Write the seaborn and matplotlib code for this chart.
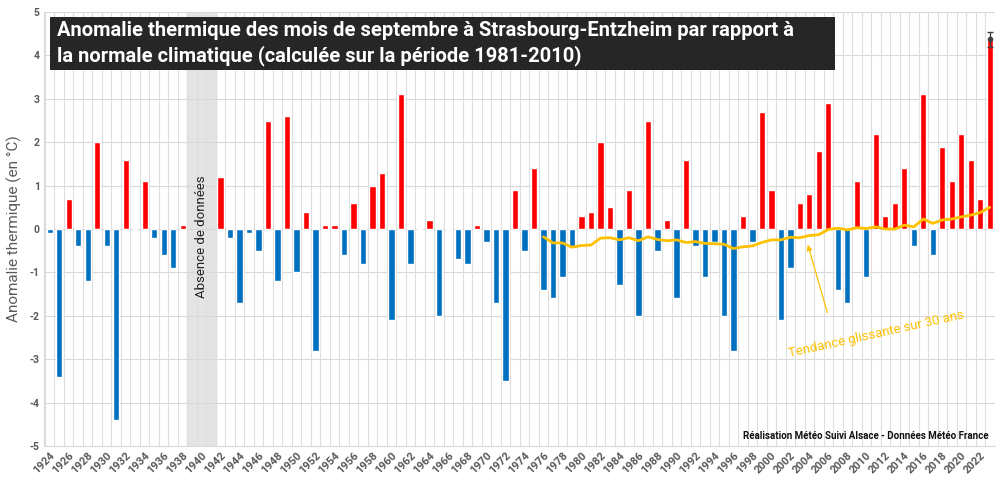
import numpy as np
import pandas as pd
import seaborn as sns
import matplotlib.pyplot as plt
from matplotlib.patches import Rectangle

years = list(range(1924, 2024))
anomalies = [-0.1, -3.4, 0.7, -0.4, -1.2, 2.0, -0.4, -4.4, 1.6, 0.0,
             1.1, -0.2, -0.6, -0.9, 0.1, np.nan, np.nan, np.nan, 1.2, -0.2,
             -1.7, -0.1, -0.5, 2.5, -1.2, 2.6, -1.0, 0.4, -2.8, 0.1,
             0.1, -0.6, 0.6, -0.8, 1.0, 1.3, -2.1, 3.1, -0.8, 0.0,
             0.2, -2.0, 0.0, -0.7, -0.8, 0.1, -0.3, -1.7, -3.5, 0.9,
             -0.5, 1.4, -1.4, -1.6, -1.1, -0.4, 0.3, 0.4, 2.0, 0.5,
             -1.3, 0.9, -2.0, 2.5, -0.5, 0.2, -1.6, 1.6, -0.4, -1.1,
             -0.3, -2.0, -2.8, 0.3, -0.3, 2.7, 0.9, -2.1, -0.9, 0.6,
             0.8, 1.8, 2.9, -1.4, -1.7, 1.1, -1.1, 2.2, 0.3, 0.6,
             1.4, -0.4, 3.1, -0.6, 1.9, 1.1, 2.2, 1.6, 0.7, 4.4]

trend_years = list(range(1976, 2024))
trend = [-0.18, -0.32, -0.32, -0.42, -0.38, -0.37, -0.21, -0.20, -0.25, -0.20,
         -0.27, -0.18, -0.24, -0.27, -0.25, -0.31, -0.29, -0.33, -0.34, -0.35,
         -0.45, -0.41, -0.39, -0.31, -0.25, -0.25, -0.19, -0.20, -0.15, -0.13,
         -0.01, 0.02, -0.02, 0.03, 0.01, 0.05, 0.00, 0.00, 0.09, 0.05,
         0.23, 0.13, 0.21, 0.23, 0.28, 0.32, 0.38, 0.50]

# 2023 : valeur provisoire avec fourchette
err_low, err_high = 4.2, 4.55

labels = [str(y) for y in years]
df = pd.DataFrame({'annee': labels, 'anomalie': anomalies})
df['signe'] = np.where(df['anomalie'] >= 0, 'chaud', 'froid')

sns.set_style('white')
plt.rcParams['font.family'] = ['Roboto', 'DejaVu Sans']

fig = plt.figure(figsize=(10, 4.82), dpi=100)
ax = fig.add_axes([0.044, 0.0747, 0.951, 0.9003])

grey = '#595959'
ax.axvspan(years.index(1939) - 0.5, years.index(1941) + 0.5, color='#e4e4e4', zorder=0)

sns.barplot(data=df, x='annee', y='anomalie', hue='signe', order=labels,
            palette={'chaud': '#ff0000', 'froid': '#0070c0'}, dodge=False,
            width=0.66, saturation=1, legend=False, ax=ax, zorder=3)

tdf = pd.DataFrame({'pos': [y - years[0] for y in trend_years], 'val': trend})
sns.lineplot(data=tdf, x='pos', y='val', color='#ffc000', linewidth=2, ax=ax, zorder=4)

i23 = years.index(2023)
ax.errorbar([i23], [4.38], yerr=[[4.38 - err_low], [err_high - 4.38]], fmt='o',
            color='#404040', ms=3, capsize=2.5, elinewidth=1, zorder=5)

ax.set_xlim(-0.6, 99.55)
ax.set_ylim(-5, 5)
ax.set_yticks(range(-5, 6))
ax.set_yticklabels([str(v) for v in range(-5, 6)], fontsize=7.5,
                   fontweight='bold', color=grey)
ax.set_xticks(range(0, 100, 2))
ax.set_xticklabels(labels[::2], rotation=45, ha='right', rotation_mode='anchor',
                   fontsize=8, fontweight='bold', color=grey)
ax.set_xticks(np.arange(-0.5, 100, 1), minor=True)
ax.tick_params(length=0, which='both', pad=3)
ax.grid(axis='y', which='major', color='#d9d9d9', linewidth=0.8, zorder=1)
ax.grid(axis='x', which='minor', color='#dedede', linewidth=0.8, zorder=1)
ax.set_axisbelow(True)
for s in ['top', 'right']:
    ax.spines[s].set_visible(False)
for s in ['left', 'bottom']:
    ax.spines[s].set_color('#d9d9d9')
ax.set_xlabel('')
ax.set_ylabel('Anomalie thermique (en °C)', fontsize=11, color=grey)
ax.yaxis.set_label_coords(-0.023, 0.5)

ax.text(years.index(1940), -0.17, 'Absence de données', rotation=90,
        ha='center', va='center', fontsize=9.5, color='#222222')

ax.annotate('', xy=(79.8, -0.33), xytext=(81.9, -1.93),
            arrowprops=dict(arrowstyle='-|>', color='#ffc000', lw=0.9,
                            mutation_scale=8, shrinkA=0, shrinkB=1), zorder=6)
ax.text(87.0, -2.42, 'Tendance glissante sur 30 ans', rotation=12.5,
        ha='center', va='center', fontsize=9.5, color='#ffc000')

ax.text(0.9935, 0.024, 'Réalisation Météo Suivi Alsace - Données Météo France',
        transform=ax.transAxes, ha='right', va='center', fontsize=7,
        fontweight='bold', color='#111111')

# bandeau titre
fig.patches.append(Rectangle((50 / 1000, 1 - 70 / 482), 785 / 1000, 53 / 482,
                             transform=fig.transFigure, facecolor='#262626',
                             edgecolor='none', zorder=10))
fig.text(57 / 1000, 1 - 31 / 482,
         'Anomalie thermique des mois de septembre à Strasbourg-Entzheim par rapport à',
         ha='left', va='center', fontsize=14.5, fontweight='bold', color='white', zorder=11)
fig.text(57 / 1000, 1 - 56 / 482,
         'la normale climatique (calculée sur la période 1981-2010)',
         ha='left', va='center', fontsize=14.5, fontweight='bold', color='white', zorder=11)

fig.savefig('out.png', dpi=100)
